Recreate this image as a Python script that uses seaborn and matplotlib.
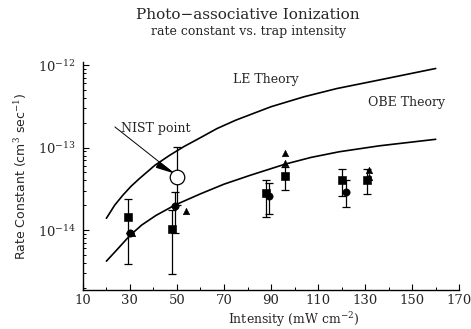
import numpy as np
import matplotlib
matplotlib.use('Agg')
import matplotlib.pyplot as plt
import seaborn as sns

# theory curves
le_x = [20, 23.5, 27, 30.5, 34, 40.6, 47, 53, 60, 67, 75, 90, 104, 118, 136, 160]
le_y = [1.39e-14, 2.0e-14, 2.65e-14, 3.4e-14, 4.2e-14, 6.1e-14, 8.1e-14,
        1.03e-13, 1.32e-13, 1.7e-13, 2.15e-13, 3.13e-13, 4.13e-13, 5.2e-13,
        6.6e-13, 9.1e-13]
obe_x = [20, 24.3, 30, 35, 41, 49, 60, 70, 81, 96, 107, 119, 136, 160]
obe_y = [4.2e-15, 5.7e-15, 8.6e-15, 1.15e-14, 1.5e-14, 2.0e-14, 2.75e-14,
         3.6e-14, 4.6e-14, 6.3e-14, 7.6e-14, 8.9e-14, 1.05e-13, 1.26e-13]

# measured points (squares, circles, triangles)
sq_x = [29, 48, 88, 96, 120, 131]
sq_y = [1.43e-14, 1.02e-14, 2.8e-14, 4.5e-14, 4.1e-14, 4.1e-14]
sq_lo = [3.9e-15, 2.95e-15, 1.45e-14, 3.1e-14, 2.6e-14, 2.73e-14]
sq_hi = [2.4e-14, 1.75e-14, 4.1e-14, 5.8e-14, 5.5e-14, 5.5e-14]

ci_x = [30, 49.3, 89.3, 122]
ci_y = [9.1e-15, 1.95e-14, 2.58e-14, 2.91e-14]
ci_lo = [9.1e-15, 9.1e-15, 1.56e-14, 1.88e-14]
ci_hi = [9.1e-15, 2.9e-14, 3.7e-14, 4.0e-14]

tr_x = [31, 54, 96, 96, 131.5, 131.5]
tr_y = [9.1e-15, 1.7e-14, 8.65e-14, 6.45e-14, 5.3e-14, 4.4e-14]

nist_x = [50]
nist_y = [4.4e-14]
nist_lo = [2.0e-14]
nist_hi = [1.02e-13]

sns.set_theme(style='ticks')
plt.rcParams['font.family'] = ['DejaVu Serif']
plt.rcParams['mathtext.fontset'] = 'dejavuserif'

fig = plt.figure(figsize=(4.71, 3.29), dpi=100)
ax = fig.add_axes([0.176, 0.1185, 0.799, 0.693])

sns.lineplot(x=le_x, y=le_y, ax=ax, color='black', lw=1.2)
sns.lineplot(x=obe_x, y=obe_y, ax=ax, color='black', lw=1.2)


def bars(x, y, lo, hi):
    y = np.array(y)
    err = [y - np.array(lo), np.array(hi) - y]
    ax.errorbar(x, y, yerr=err, fmt='none', ecolor='black', elinewidth=0.9,
                capsize=3, capthick=0.9)


bars(sq_x, sq_y, sq_lo, sq_hi)
bars(ci_x, ci_y, ci_lo, ci_hi)
bars(nist_x, nist_y, nist_lo, nist_hi)

sns.scatterplot(x=sq_x, y=sq_y, ax=ax, marker='s', color='black', s=30,
                edgecolor='black', zorder=5)
sns.scatterplot(x=ci_x, y=ci_y, ax=ax, marker='o', color='black', s=28,
                edgecolor='black', zorder=5)
sns.scatterplot(x=tr_x, y=tr_y, ax=ax, marker='^', color='black', s=22,
                edgecolor='black', zorder=5)
sns.scatterplot(x=nist_x, y=nist_y, ax=ax, marker='o', facecolor='white',
                s=110, edgecolor='black', linewidth=0.9, zorder=6)

ax.set_yscale('log')
ax.set_xlim(10, 170)
ax.set_ylim(1.875e-15, 1.09e-12)
ax.set_xticks(range(10, 171, 20))
ax.set_xticks(range(20, 171, 20), minor=True)
ax.set_yticks([1e-14, 1e-13, 1e-12])
ax.set_yticklabels([r'$10^{-14}$', r'$10^{-13}$', r'$10^{-12}$'])
ax.tick_params(axis='both', which='major', direction='in', length=4,
               width=0.8, labelsize=9.5, color='black')
ax.tick_params(axis='both', which='minor', direction='in', length=2.5,
               width=0.7, color='black')
ax.tick_params(axis='x', pad=3)
ax.tick_params(axis='y', pad=5)
for s in ['top', 'right']:
    ax.spines[s].set_visible(False)
for s in ['left', 'bottom']:
    ax.spines[s].set_color('black')
    ax.spines[s].set_linewidth(1.0)

ax.set_xlabel(r'Intensity (mW cm$^{-2}$)', fontsize=9)
ax.xaxis.set_label_coords(0.56, -0.088)
ax.set_ylabel(r'Rate Constant (cm$^3$ sec$^{-1}$)', fontsize=9,
              family='DejaVu Sans', labelpad=6)

ax.text(88, 6.7e-13, 'LE Theory', ha='center', va='center', fontsize=9)
ax.text(147.7, 3.56e-13, 'OBE Theory', ha='center', va='center', fontsize=9)
ax.text(41.1, 1.72e-13, 'NIST point', ha='center', va='center', fontsize=9)

ax.annotate('', xy=(47.9, 5.05e-14), xytext=(23.6, 1.78e-13),
            arrowprops=dict(arrowstyle='-', color='black', lw=0.7,
                            shrinkA=0, shrinkB=0))
ax.annotate('', xy=(47.9, 5.05e-14), xytext=(41.9, 6.2e-14),
            arrowprops=dict(arrowstyle='wedge,tail_width=0.35', color='black',
                            shrinkA=0, shrinkB=0))

fig.text(0.527, 0.953, 'Photo\u2212associative Ionization', ha='center',
         va='center', fontsize=11)
fig.text(0.527, 0.905, 'rate constant vs. trap intensity', ha='center',
         va='center', fontsize=9)

fig.savefig('out.png', dpi=100)
